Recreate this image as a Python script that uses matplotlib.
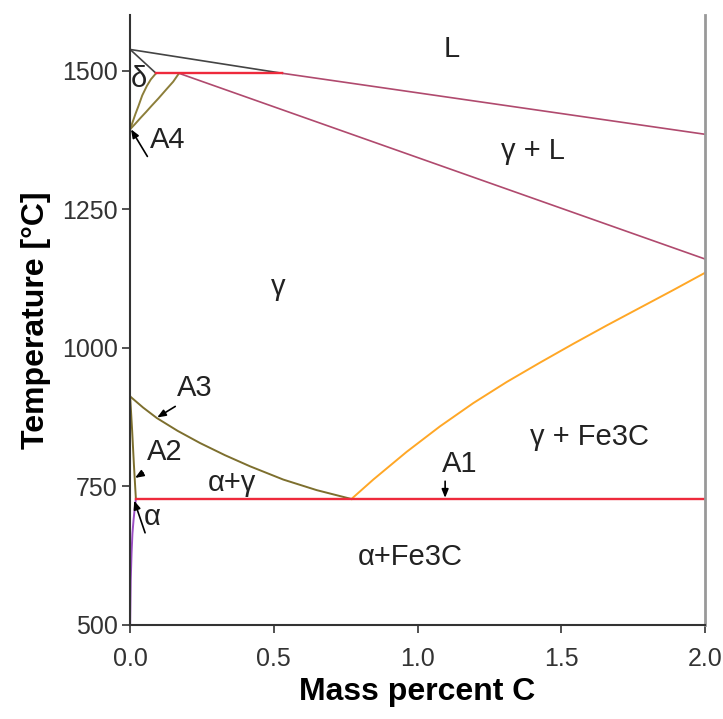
import matplotlib.pyplot as plt
from matplotlib.ticker import FormatStrFormatter

plt.rcParams["font.family"] = ["Liberation Sans", "DejaVu Sans"]

# phase boundaries (mass % C, temperature in C)
liquidus_delta_x = [0.0, 0.53]
liquidus_delta_y = [1538, 1495]
delta_solidus_x = [0.0, 0.09]
delta_solidus_y = [1538, 1495]
peritectic_x = [0.09, 0.53]
peritectic_y = [1495, 1495]
liquidus_x = [0.53, 2.0]
liquidus_y = [1495, 1385]
solidus_x = [0.17, 2.0]
solidus_y = [1495, 1160]
a4_inner_x = [0.09, 0.072, 0.058, 0.042, 0.029, 0.018, 0.008, 0.0]
a4_inner_y = [1495, 1484, 1472, 1455, 1436, 1421, 1406, 1394]
a4_outer_x = [0.17, 0.15, 0.126, 0.099, 0.074, 0.055, 0.037, 0.018, 0.0]
a4_outer_y = [1495, 1480, 1466, 1450, 1436, 1425, 1415, 1404, 1394]
a3_x = [0.0, 0.045, 0.093, 0.165, 0.243, 0.33, 0.417, 0.533, 0.649, 0.77]
a3_y = [912, 892, 873, 850, 828, 806, 786, 762, 743, 727]
a2_x = [0.0, 0.007, 0.013, 0.02]
a2_y = [912, 850, 790, 727]
alpha_x = [0.02, 0.016, 0.012, 0.008, 0.005, 0.002, 0.0]
alpha_y = [727, 710, 690, 665, 630, 580, 500]
eutectoid_x = [0.02, 2.0]
eutectoid_y = [727, 727]
acm_x = [0.77, 0.846, 0.962, 1.078, 1.194, 1.31, 1.426, 1.542, 1.658, 1.774, 1.890, 2.0]
acm_y = [727, 762, 812, 858, 900, 938, 973, 1007, 1040, 1072, 1104, 1135]

x_ticks = [0.0, 0.5, 1.0, 1.5, 2.0]
y_ticks = [500, 750, 1000, 1250, 1500]

region_labels = [
    ("L", 1.119, 1538),
    ("γ + L", 1.403, 1354),
    ("γ", 0.515, 1110),
    ("γ + Fe3C", 1.6, 839),
    ("α+γ", 0.355, 756),
    ("α+Fe3C", 0.974, 623),
    ("δ", 0.032, 1484),
]

# (text, text x, text y, arrow tail x, tail y, arrow tip x, tip y)
arrow_labels = [
    ("A4", 0.13, 1375, 0.06, 1345, 0.003, 1394),
    ("A3", 0.225, 928, 0.157, 894, 0.094, 874),
    ("A2", 0.12, 812, 0.045, 774, 0.017, 765),
    ("α", 0.077, 695, 0.052, 666, 0.014, 724),
    ("A1", 1.148, 791, 1.096, 759, 1.096, 729),
]

fig = plt.figure(figsize=(7.23, 7.19), dpi=100)
ax = fig.add_axes([0.18, 0.131, 0.795, 0.848])

ax.plot(liquidus_delta_x, liquidus_delta_y, color="#444444", lw=1.2)
ax.plot(delta_solidus_x, delta_solidus_y, color="#444444", lw=1.2)
ax.plot(liquidus_x, liquidus_y, color="#b04a6e", lw=1.2)
ax.plot(solidus_x, solidus_y, color="#b04a6e", lw=1.2)
ax.plot(a4_inner_x, a4_inner_y, color="#8c7e3a", lw=1.4)
ax.plot(a4_outer_x, a4_outer_y, color="#8c7e3a", lw=1.4)
ax.plot(peritectic_x, peritectic_y, color="#ee2a3c", lw=1.7)
ax.plot(a3_x, a3_y, color="#7d6f2e", lw=1.4)
ax.plot(a2_x, a2_y, color="#7d6f2e", lw=1.4)
ax.plot(alpha_x, alpha_y, color="#9b4fc4", lw=1.4)
ax.plot(acm_x, acm_y, color="#ffa726", lw=1.4)
ax.plot(eutectoid_x, eutectoid_y, color="#ee2a3c", lw=1.7)

for text, x, y in region_labels:
    ax.text(x, y, text, fontsize=21, ha="center", va="center", color="#222222")

for text, tx, ty, ax0, ay0, ax1, ay1 in arrow_labels:
    ax.text(tx, ty, text, fontsize=21, ha="center", va="center", color="#222222")
    ax.annotate("", xy=(ax1, ay1), xytext=(ax0, ay0),
                arrowprops=dict(arrowstyle="-|>,head_length=0.5,head_width=0.2",
                                color="black", lw=1.2, shrinkA=0, shrinkB=0))

ax.set_xlim(0, 2.0)
ax.set_ylim(500, 1600)
ax.set_xticks(x_ticks)
ax.set_yticks(y_ticks)
ax.xaxis.set_major_formatter(FormatStrFormatter("%.1f"))
ax.tick_params(direction="out", length=6, width=1.2, colors="#333333",
               labelsize=18, labelcolor="#333333")
ax.tick_params(axis="x", pad=10)
ax.tick_params(axis="y", pad=3)

ax.spines["top"].set_visible(False)
ax.spines["left"].set_color("#333333")
ax.spines["bottom"].set_color("#333333")
ax.spines["left"].set_linewidth(1.5)
ax.spines["bottom"].set_linewidth(1.5)
ax.spines["right"].set_color("#999999")
ax.spines["right"].set_linewidth(2)

ax.set_xlabel("Mass percent C", fontsize=23, fontweight="bold", labelpad=4)
ax.set_ylabel("Temperature [°C]", fontsize=23, fontweight="bold", labelpad=8)

plt.savefig("out.png", dpi=100)
